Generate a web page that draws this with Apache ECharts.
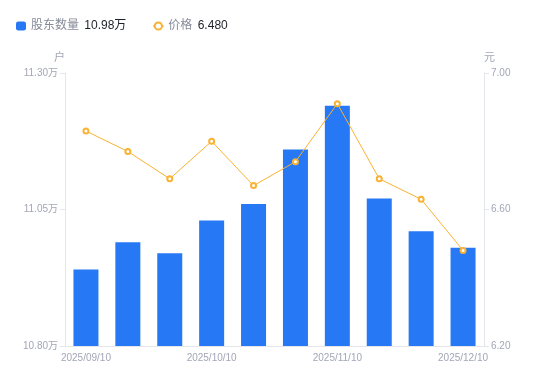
<!DOCTYPE html>
<html><head><meta charset="utf-8">
<script src="https://cdn.jsdelivr.net/npm/echarts@6/dist/echarts.min.js"></script>
<style>html,body{margin:0;padding:0;background:#fff}#c{width:550px;height:381px}</style>
</head><body><div id="c"></div>
<script>
const categories = ['2025/09/10','2025/09/20','2025/09/30','2025/10/10','2025/10/20','2025/10/31','2025/11/10','2025/11/20','2025/11/30','2025/12/10'];
const holders = [10.94, 10.99, 10.97, 11.03, 11.06, 11.16, 11.24, 11.07, 11.01, 10.98];
const prices = [6.83, 6.77, 6.69, 6.80, 6.67, 6.74, 6.91, 6.69, 6.63, 6.48];
const holderName = '股东数量';
const priceName = '价格';

const FONT = '"Liberation Sans", "Noto Sans CJK SC", sans-serif';
const chart = echarts.init(document.getElementById('c'), null, {renderer: 'canvas'});
const lastH = holders[holders.length - 1];
const lastP = prices[prices.length - 1];
chart.setOption({
  animation: false,
  textStyle: {fontFamily: FONT},
  legend: {
    left: 11, top: 15,
    itemGap: 26,
    itemWidth: 10, itemHeight: 9,
    textStyle: {fontFamily: FONT, fontSize: 12,
      rich: {a: {color: '#868b99', fontSize: 12, fontFamily: FONT}, b: {color: '#1d2129', fontSize: 12, fontFamily: FONT, padding: [0,0,0,2]}}},
    formatter: function (n) {
      return n === holderName ? '{a|' + n + '} {b|' + lastH.toFixed(2) + '万}' : '{a|' + n + '} {b|' + lastP.toFixed(3) + '}';
    },
    data: [{name: holderName, icon: 'roundRect'}, {name: priceName}]
  },
  grid: {left: 65, right: 66, top: 73, bottom: 35},
  xAxis: {
    type: 'category', data: categories, boundaryGap: true,
    axisLine: {lineStyle: {color: '#e5e6eb'}},
    axisTick: {show: false},
    axisLabel: {interval: 2, color: '#a2a6b6', fontSize: 10, margin: 7, fontFamily: FONT}
  },
  yAxis: [{
    type: 'value', min: 10.80, max: 11.30, interval: 0.25,
    name: '户', nameGap: 10,
    nameTextStyle: {color: '#a2a6b6', fontSize: 11, align: 'right', fontFamily: FONT},
    axisLine: {show: true, lineStyle: {color: '#e5e6eb'}},
    axisTick: {show: true, length: 5, lineStyle: {color: '#e5e6eb'}},
    splitLine: {show: false},
    axisLabel: {color: '#a2a6b6', fontSize: 10, margin: 7, fontFamily: FONT, formatter: v => v.toFixed(2) + '万'}
  }, {
    type: 'value', min: 6.20, max: 7.00, interval: 0.4,
    name: '元', nameGap: 10,
    nameTextStyle: {color: '#a2a6b6', fontSize: 11, align: 'left', fontFamily: FONT},
    axisLine: {show: true, lineStyle: {color: '#e5e6eb'}},
    axisTick: {show: true, length: 5, lineStyle: {color: '#e5e6eb'}},
    splitLine: {show: false},
    axisLabel: {color: '#a2a6b6', fontSize: 10, margin: 7, fontFamily: FONT, formatter: v => v.toFixed(2)}
  }],
  series: [{
    name: holderName, type: 'bar', yAxisIndex: 0, data: holders,
    barWidth: 25,
    itemStyle: {color: '#2778f5'}
  }, {
    name: priceName, type: 'line', yAxisIndex: 1, data: prices,
    symbol: 'emptyCircle', symbolSize: 5,
    lineStyle: {color: '#f9b233', width: 1},
    itemStyle: {color: '#f9b233', borderWidth: 2}
  }]
});
</script></body></html>
